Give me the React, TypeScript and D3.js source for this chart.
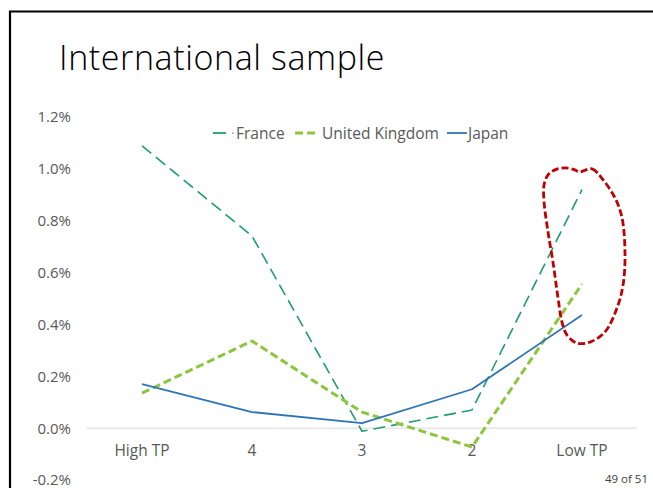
import React from "react";
import * as d3 from "d3";

const categories = ["High TP", "4", "3", "2", "Low TP"];
const france = [1.089, 0.741, -0.012, 0.07, 0.92];
const unitedKingdom = [0.135, 0.336, 0.062, -0.073, 0.556];
const japan = [0.17, 0.062, 0.019, 0.15, 0.436];
const yTicks = [-0.2, 0, 0.2, 0.4, 0.6, 0.8, 1.0, 1.2];

// annotation loop in data space: [category index, value %]
const loopIdx = [3.973, 4.091, 4.191, 4.3, 4.364, 4.391, 4.373, 4.318, 4.209, 4.073, 3.955, 3.864, 3.818, 3.782, 3.736, 3.691, 3.655, 3.655, 3.691, 3.755, 3.845, 3.936];
const loopVal = [0.988, 1.0, 0.958, 0.888, 0.811, 0.668, 0.552, 0.463, 0.371, 0.332, 0.328, 0.359, 0.409, 0.502, 0.641, 0.757, 0.873, 0.938, 0.977, 0.996, 1.004, 0.996];

const W = 653;
const H = 488;
const FONT = "'Open Sans', 'Noto Sans', sans-serif";

export default function App() {
  const x = d3.scalePoint<string>().domain(categories).range([87, 637]).padding(0.5);
  const xi = d3.scaleLinear().domain([0, 4]).range([x(categories[0])!, x(categories[4])!]);
  const y = d3.scaleLinear().domain([-0.2, 1.2]).range([480, 117]);

  const line = d3
    .line<number>()
    .x((_, i) => x(categories[i])!)
    .y((d) => y(d));

  const loopPts: [number, number][] = loopIdx.map((v, i) => [xi(v), y(loopVal[i])]);
  const loopPath = d3.line().curve(d3.curveCatmullRomClosed)(loopPts) || "";

  const series = [
    { name: "France", values: france, color: "#1E9C74", width: 1.6, dash: "12,6" },
    { name: "United Kingdom", values: unitedKingdom, color: "#8CC63F", width: 3, dash: "8,4" },
    { name: "Japan", values: japan, color: "#2E75B6", width: 1.8, dash: "none" },
  ];

  const fmt = (t: number) => d3.format(".1f")(t).replace("\u2212", "-") + "%";

  return (
    <svg
      width={W}
      height={H}
      style={{ position: "absolute", left: 0, top: 0, background: "#fff" }}
      fontFamily={FONT}
    >
      <rect x={0} y={0} width={W} height={H} fill="#fff" />
      {/* slide frame */}
      <path d={`M10,${H} L10,11.5 L${W},11.5`} fill="none" stroke="#000" strokeWidth={2.2} />
      <text x={59} y={70} fontSize={34} fontWeight={300} fill="#000" style={{ letterSpacing: "0.6px" }}>
        International sample
      </text>

      {/* y axis labels */}
      {yTicks.map((t) => (
        <text key={t} x={71} y={y(t)} dy="0.36em" textAnchor="end" fontSize={15} fill="#595959">
          {fmt(t)}
        </text>
      ))}

      {/* zero line */}
      <line x1={87} x2={637} y1={y(0)} y2={y(0)} stroke="#D9D9D9" strokeWidth={1} />

      {/* category labels */}
      {categories.map((c) => (
        <text key={c} x={x(c)!} y={456} textAnchor="middle" fontSize={15.5} fill="#595959">
          {c}
        </text>
      ))}

      {/* series */}
      {series.map((s) => (
        <path
          key={s.name}
          d={line(s.values) || ""}
          fill="none"
          stroke={s.color}
          strokeWidth={s.width}
          strokeDasharray={s.dash}
          strokeLinejoin="round"
        />
      ))}

      {/* legend */}
      <g fontSize={15.5} fill="#595959">
        <line x1={213} x2={226} y1={133} y2={133} stroke="#1E9C74" strokeWidth={1.8} />
        <circle cx={233} cy={133} r={0.8} fill="#1E9C74" />
        <text x={236} y={133} dy="0.36em">France</text>
        <line x1={295} x2={318} y1={133} y2={133} stroke="#8CC63F" strokeWidth={3} strokeDasharray="8,4" />
        <text x={322} y={133} dy="0.36em">United Kingdom</text>
        <line x1={447} x2={467} y1={133} y2={133} stroke="#2E75B6" strokeWidth={1.8} />
        <text x={468} y={133} dy="0.36em">Japan</text>
      </g>

      {/* annotation loop */}
      <path d={loopPath} fill="none" stroke="#C00000" strokeWidth={2.8} strokeDasharray="7,3" />

      <text x={648} y={483} textAnchor="end" fontSize={11.5} fill="#404040">
        49 of 51
      </text>
    </svg>
  );
}
